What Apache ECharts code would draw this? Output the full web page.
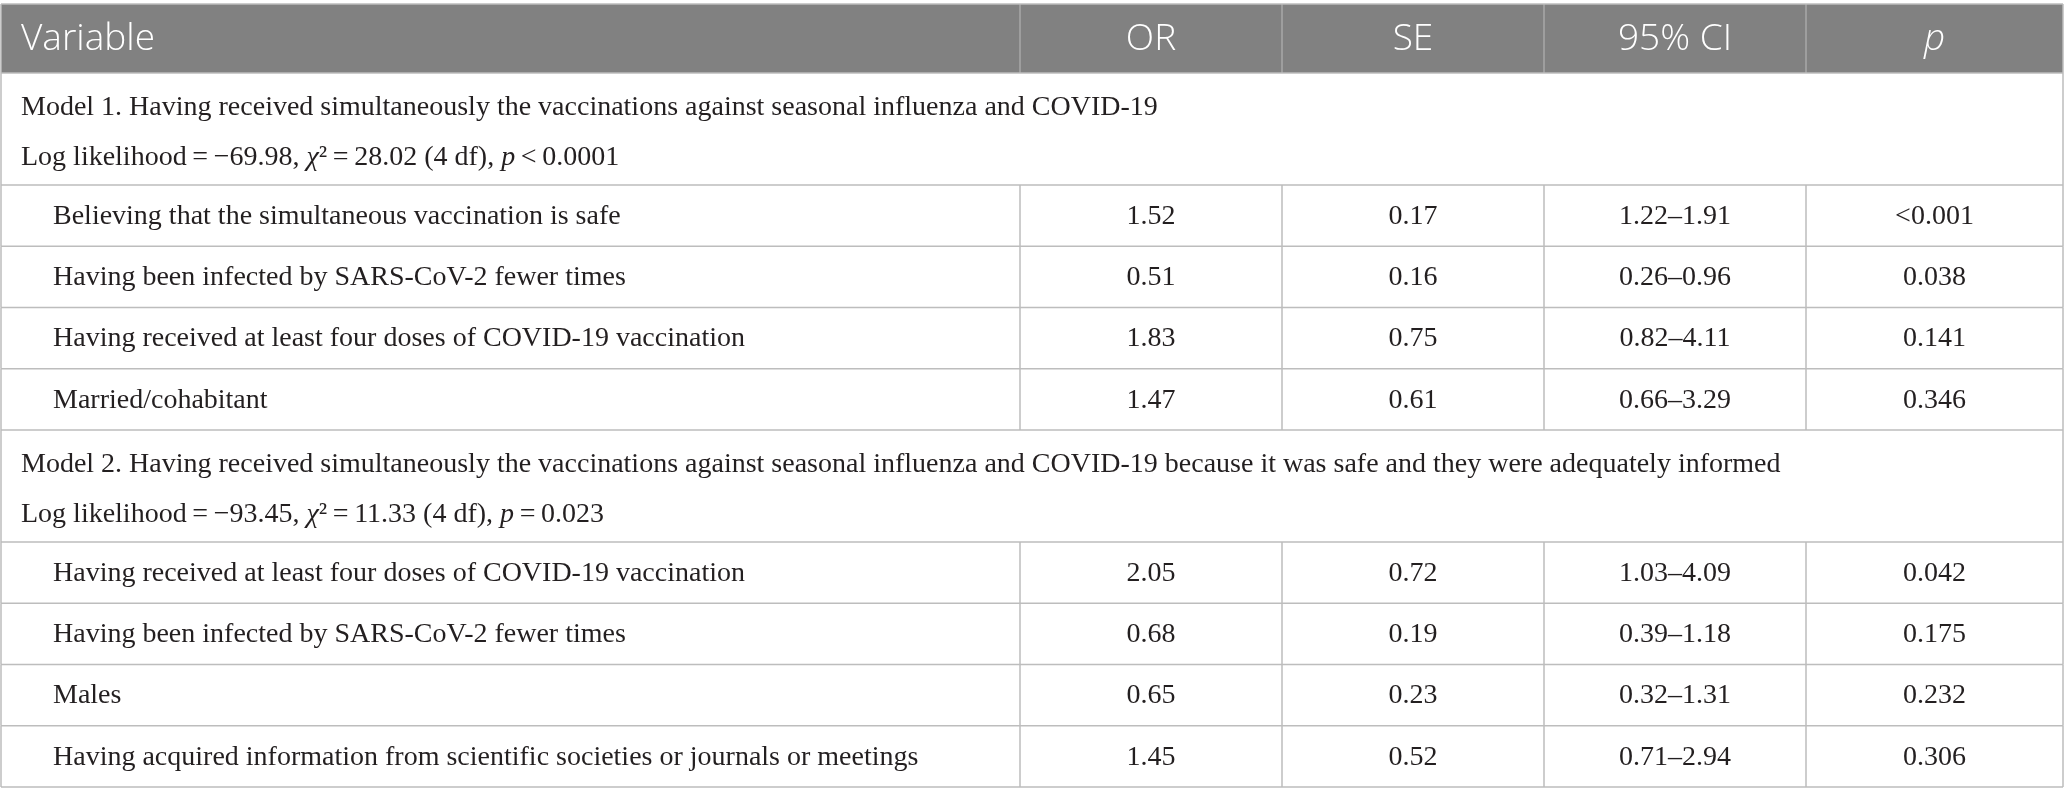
<!doctype html>
<meta charset="utf-8">
<style>
  html, body {
    margin: 0;
    height: 100%;
    background: #fff;
  }

  #chart {
    width: 2067px;
    height: 805px;
  }
</style>
<script src="https://cdn.jsdelivr.net/npm/echarts@6/dist/echarts.min.js"></script>

<div id="chart"></div>

<script>
  // table content
  const columns = ['Variable', 'OR', 'SE', '95% CI', 'p']

  const model1Title = 'Model 1. Having received simultaneously the vaccinations against seasonal influenza and COVID-19'
  const model1Fit = 'Log likelihood\u2009=\u2009\u221269.98, {i|χ}²\u2009=\u200928.02 (4 df), {i|p}\u2009<\u20090.0001'
  const model1Vars = [
    'Believing that the simultaneous vaccination is safe',
    'Having been infected by SARS-CoV-2 fewer times',
    'Having received at least four doses of COVID-19 vaccination',
    'Married/cohabitant',
  ]
  const model1OR = [1.52, 0.51, 1.83, 1.47]
  const model1SE = [0.17, 0.16, 0.75, 0.61]
  const model1CI = ['1.22–1.91', '0.26–0.96', '0.82–4.11', '0.66–3.29']
  const model1P = ['<0.001', '0.038', '0.141', '0.346']

  const model2Title = 'Model 2. Having received simultaneously the vaccinations against seasonal influenza and COVID-19 because it was safe and they were adequately informed'
  const model2Fit = 'Log likelihood\u2009=\u2009\u221293.45, {i|χ}²\u2009=\u200911.33 (4 df), {i|p}\u2009=\u20090.023'
  const model2Vars = [
    'Having received at least four doses of COVID-19 vaccination',
    'Having been infected by SARS-CoV-2 fewer times',
    'Males',
    'Having acquired information from scientific societies or journals or meetings',
  ]
  const model2OR = [2.05, 0.68, 0.65, 1.45]
  const model2SE = [0.72, 0.19, 0.23, 0.52]
  const model2CI = ['1.03–4.09', '0.39–1.18', '0.32–1.31', '0.71–2.94']
  const model2P = ['0.042', '0.175', '0.232', '0.306']

  // layout (table units = px on the grid)
  const colEdges = [0, 1019, 1281, 1543, 1805, 2062]
  const HEADER_H = 69, MODEL_H = 112, ROW_H = 61.25
  const SERIF = '"Liberation Serif", "Times New Roman", serif'
  const SANS = '"Open Sans", "Noto Sans", sans-serif'
  const FONT_SIZE = 28
  const TEXT_COLOR = '#231f20'
  const LINE_COLOR = '#bdbdbd'

  let rows = []
  let cursor = 0
  function push(row, h) {
    row.top = cursor
    row.h = h
    rows.push(row)
    cursor += h
  }
  push({ kind: 'header', cells: columns }, HEADER_H)
  ;[
    [model1Title, model1Fit, model1Vars, model1OR, model1SE, model1CI, model1P],
    [model2Title, model2Fit, model2Vars, model2OR, model2SE, model2CI, model2P],
  ].forEach(([title, fit, vars, or, se, ci, p]) => {
    push({ kind: 'model', title: title, fit: fit }, MODEL_H)
    vars.forEach((v, i) => {
      push({ kind: 'row', cells: [v, or[i].toFixed(2), se[i].toFixed(2), ci[i], p[i]] }, ROW_H)
    })
  })
  const TOTAL_H = cursor

  function line(x1, y1, x2, y2, color) {
    return {
      type: 'line',
      shape: { x1: x1, y1: y1, x2: x2, y2: y2 },
      style: { stroke: color || LINE_COLOR, lineWidth: 1.5 },
    }
  }

  function renderRow(params, api) {
    const r = rows[api.value(0)]
    const a = api.coord([0, r.top])
    const b = api.coord([colEdges[colEdges.length - 1], r.top + r.h])
    const x0 = a[0], y0 = a[1], x1 = b[0], y1 = b[1]
    const ym = (y0 + y1) / 2
    const colX = colEdges.map(e => api.coord([e, r.top])[0])
    let children = []

    if (r.kind === 'header') {
      children.push({ type: 'rect', shape: { x: x0, y: y0, width: x1 - x0, height: y1 - y0 }, style: { fill: '#818181' } })
      r.cells.forEach((c, i) => {
        children.push({
          type: 'text',
          style: {
            text: c,
            x: i === 0 ? x0 + 20 : (colX[i] + colX[i + 1]) / 2,
            y: ym + 1,
            textAlign: i === 0 ? 'left' : 'center',
            textVerticalAlign: 'middle',
            fontFamily: SANS,
            fontWeight: 300,
            fontStyle: i === 4 ? 'italic' : 'normal',
            fontSize: 37,
            fill: '#fff',
          },
        })
      })
      for (let i = 1; i < colX.length - 1; i++) children.push(line(colX[i], y0, colX[i], y1, '#a8a8a8'))
      children.push(line(x0, y0, x1, y0))
    } else if (r.kind === 'model') {
      const base = { fontFamily: SERIF, fontSize: FONT_SIZE, fill: TEXT_COLOR }
      children.push({
        type: 'text',
        style: Object.assign({ text: r.title, x: x0 + 20, y: y0 + 35, textAlign: 'left', textVerticalAlign: 'middle' }, base),
      })
      children.push({
        type: 'text',
        style: Object.assign({
          text: r.fit, x: x0 + 20, y: y0 + 85, textAlign: 'left', textVerticalAlign: 'middle',
          rich: { i: Object.assign({ fontStyle: 'italic' }, base) },
        }, base),
      })
    } else {
      r.cells.forEach((c, i) => {
        children.push({
          type: 'text',
          style: {
            text: c,
            x: i === 0 ? x0 + 52 : (colX[i] + colX[i + 1]) / 2,
            y: ym + 1,
            textAlign: i === 0 ? 'left' : 'center',
            textVerticalAlign: 'middle',
            fontFamily: SERIF,
            fontSize: FONT_SIZE,
            fill: TEXT_COLOR,
          },
        })
      })
      for (let i = 1; i < colX.length - 1; i++) children.push(line(colX[i], y0, colX[i], y1))
    }
    // outer frame + bottom rule
    children.push(line(x0, y0, x0, y1))
    children.push(line(x1, y0, x1, y1))
    children.push(line(x0, y1, x1, y1))
    return { type: 'group', children: children }
  }

  let chart = echarts.init(document.getElementById('chart'))
  chart.setOption({
    animation: false,
    grid: { left: 1, top: 4, width: colEdges[colEdges.length - 1], height: TOTAL_H },
    xAxis: { type: 'value', min: 0, max: colEdges[colEdges.length - 1], show: false },
    yAxis: { type: 'value', min: 0, max: TOTAL_H, inverse: true, show: false },
    series: {
      type: 'custom',
      renderItem: renderRow,
      data: rows.map((r, i) => [i]),
      encode: { x: [], y: [] },
      clip: false,
    },
  })
</script>
